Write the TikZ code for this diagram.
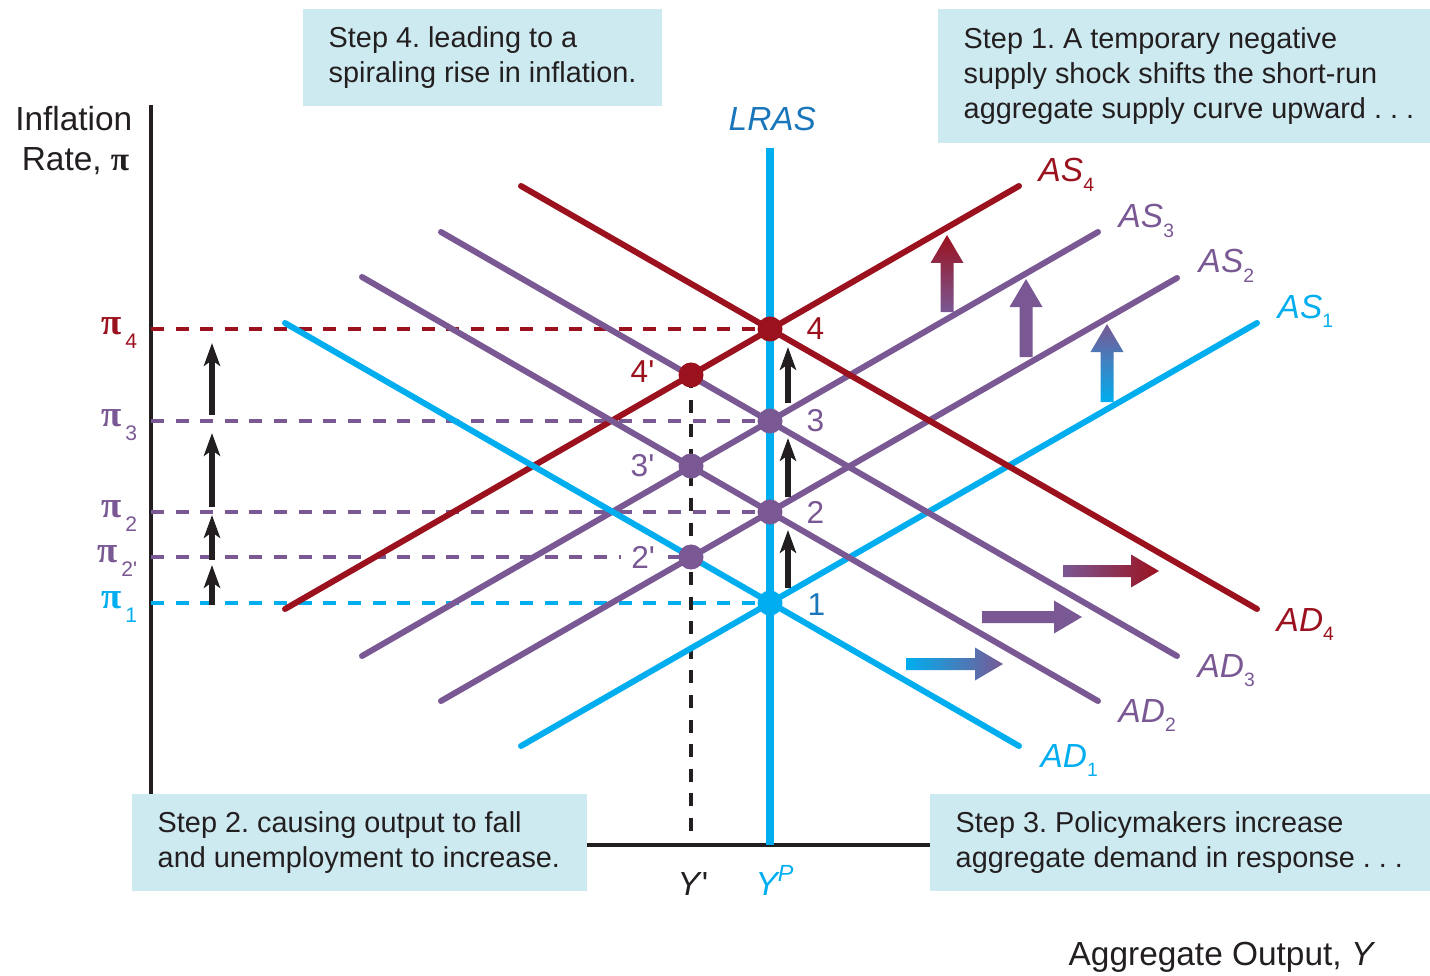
\documentclass[tikz,border=0pt]{standalone}
\usepackage{fontspec}
\setmainfont{Liberation Sans}
\newfontfamily\greekfont{Liberation Serif}
\usetikzlibrary{arrows.meta, positioning}
\frenchspacing

\definecolor{adcyan}{RGB}{0,174,239}
\definecolor{aspurple}{RGB}{122,88,148}
\definecolor{asred}{RGB}{155,17,30}
\definecolor{boxfill}{RGB}{205,234,241}
\definecolor{labblue}{RGB}{25,118,186}
\definecolor{inkblack}{RGB}{35,31,32}

\newcommand{\curvelab}[2]{\textit{#1}\raisebox{-2.8pt}{\fontsize{5.5}{5.5}\selectfont #2}}
\newcommand{\pilab}[1]{{\greekfont\bfseries\fontsize{10.5}{10}\selectfont π}\hspace{1pt}\raisebox{-4pt}{\fontsize{6}{6}\selectfont #1}}

\begin{document}
\begin{tikzpicture}[x=0.01cm, y=-0.01cm, >=Stealth,
  curve/.style={line width=1.7pt, line cap=round},
  level/.style={line width=0.9pt, dash pattern=on 3.7pt off 3.3pt},
  eqdot/.style={circle, inner sep=0pt, minimum size=0.25cm},
  shift arrow/.style={inkblack, line width=1.5pt,
    -{Stealth[length=6.5pt, width=4.6pt, inset=1.6pt]}},
  curvename/.style={anchor=base west, inner sep=0pt,
    font=\fontsize{9.5}{9.5}\selectfont},
  ptname/.style={anchor=base west, inner sep=0pt,
    font=\fontsize{9}{9}\selectfont},
  stepbox/.style={fill=boxfill, inner sep=0pt, anchor=north west},
  steptext/.style={font=\fontsize{8.2}{10}\selectfont, align=left,
    text=inkblack, inner sep=0pt}]

  \useasboundingbox (0,0) rectangle (1430,976);

  % Axes
  \coordinate (ytop) at (151,105);
  \coordinate (origin) at (151,845);
  \coordinate (xend) at (1360,845);
  \draw[inkblack, line width=0.9pt] (ytop) -- (origin) -- (xend);

  % Equilibria
  \coordinate (eq1) at (770,603);
  \coordinate (eq2) at (770,512);
  \coordinate (eq3) at (770,421);
  \coordinate (eq4) at (770,329);
  \coordinate (eq2p) at (691,557);
  \coordinate (eq3p) at (691,466);
  \coordinate (eq4p) at (691,375);

  % Inflation levels (dashed)
  \coordinate (pi1) at (151,603);
  \coordinate (pi2p) at (151,557);
  \coordinate (pi2) at (151,512);
  \coordinate (pi3) at (151,421);
  \coordinate (pi4) at (151,329);
  \draw[level, adcyan] (pi1) -- (eq1);
  \draw[level, aspurple] (pi2p) -- (eq2p);
  \draw[level, aspurple] (pi2) -- (eq2);
  \draw[level, aspurple] (pi3) -- (eq3);
  \draw[level, asred] (pi4) -- (eq4);

  % Output Y'
  \coordinate (yprime) at (691,845);
  \draw[level, inkblack] (eq4p) -- (yprime);

  % LRAS
  \coordinate (lrastop) at (770,148);
  \coordinate (lrasbot) at (770,845);
  \draw[adcyan, line width=2pt] (lrastop) -- (lrasbot);

  % AS curves
  \coordinate (as1a) at (521,746);  \coordinate (as1b) at (1257,323);
  \coordinate (as2a) at (441,701);  \coordinate (as2b) at (1177,278);
  \coordinate (as3a) at (362,656);  \coordinate (as3b) at (1098,232);
  \coordinate (as4a) at (285,609);  \coordinate (as4b) at (1019,186);
  \draw[curve, adcyan] (as1a) -- (as1b);
  \draw[curve, aspurple] (as2a) -- (as2b);
  \draw[curve, aspurple] (as3a) -- (as3b);
  \draw[curve, asred] (as4a) -- (as4b);

  % AD curves
  \coordinate (ad1a) at (285,323);  \coordinate (ad1b) at (1019,746);
  \coordinate (ad2a) at (362,277);  \coordinate (ad2b) at (1098,701);
  \coordinate (ad3a) at (441,232);  \coordinate (ad3b) at (1177,656);
  \coordinate (ad4a) at (521,186);  \coordinate (ad4b) at (1257,609);
  \draw[curve, adcyan] (ad1a) -- (ad1b);
  \draw[curve, aspurple] (ad2a) -- (ad2b);
  \draw[curve, aspurple] (ad3a) -- (ad3b);
  \draw[curve, asred] (ad4a) -- (ad4b);

  % Shift arrows of AS (up)
  \shade[bottom color=aspurple, top color=asred] (947,312) -- ++(-6.5,0)
    -- ++(0,-49) -- ++(-10,0) -- ++(16.5,-28) -- ++(16.5,28) -- ++(-10,0)
    -- ++(0,49) -- cycle;
  \fill[aspurple] (1026,357) -- ++(-6.5,0)
    -- ++(0,-50) -- ++(-10,0) -- ++(16.5,-28) -- ++(16.5,28) -- ++(-10,0)
    -- ++(0,50) -- cycle;
  \shade[bottom color=adcyan, top color=aspurple] (1107,402) -- ++(-6.5,0)
    -- ++(0,-50) -- ++(-10,0) -- ++(16.5,-28) -- ++(16.5,28) -- ++(-10,0)
    -- ++(0,50) -- cycle;

  % Shift arrows of AD (right)
  \shade[left color=aspurple, right color=asred] (1063,571) -- ++(0,-6)
    -- ++(68,0) -- ++(0,-10.5) -- ++(28,16.5) -- ++(-28,16.5) -- ++(0,-10.5)
    -- ++(-68,0) -- cycle;
  \fill[aspurple] (982,617) -- ++(0,-6)
    -- ++(72,0) -- ++(0,-10.5) -- ++(28,16.5) -- ++(-28,16.5) -- ++(0,-10.5)
    -- ++(-72,0) -- cycle;
  \shade[left color=adcyan, right color=aspurple] (906,664) -- ++(0,-6)
    -- ++(69,0) -- ++(0,-10.5) -- ++(28,16.5) -- ++(-28,16.5) -- ++(0,-10.5)
    -- ++(-69,0) -- cycle;

  % Rising inflation arrows
  \foreach \n/\from/\to in {a/605/565, b/560/515, c/507/433, d/415/343} {
    \coordinate (lt\n) at (212,\from);
    \coordinate (lh\n) at (212,\to);
    \draw[shift arrow] (lt\n) -- (lh\n);
  }
  \foreach \n/\from/\to in {a/588/530, b/497/438, c/403/347} {
    \coordinate (rt\n) at (788,\from);
    \coordinate (rh\n) at (788,\to);
    \draw[shift arrow] (rt\n) -- (rh\n);
  }

  % Dots
  \node[eqdot, fill=adcyan] (dot1) at (eq1) {};
  \node[eqdot, fill=aspurple] (dot2) at (eq2) {};
  \node[eqdot, fill=aspurple] (dot3) at (eq3) {};
  \node[eqdot, fill=asred] (dot4) at (eq4) {};
  \node[eqdot, fill=aspurple] (dot2p) at (eq2p) {};
  \node[eqdot, fill=aspurple] (dot3p) at (eq3p) {};
  \node[eqdot, fill=asred] (dot4p) at (eq4p) {};

  % Point labels
  \node[ptname, labblue] (lab1) at (807,615) {1};
  \node[ptname, aspurple] (lab2) at (806,523) {2};
  \node[ptname, aspurple] (lab3) at (806,431) {3};
  \node[ptname, asred] (lab4) at (806,340) {4};
  \node[ptname, aspurple, fill=white, inner xsep=3pt] (lab2p) at (620,568)
    {2\textquotesingle};
  \node[ptname, aspurple] (lab3p) at (630,476) {3\textquotesingle};
  \node[ptname, asred] (lab4p) at (630,383) {4\textquotesingle};

  % Curve labels
  \node[curvename, labblue] (lraslab) at (728,131) {\textit{LRAS}};
  \node[curvename, asred] (as4lab) at (1038,182) {\curvelab{AS}{4}};
  \node[curvename, aspurple] (as3lab) at (1118,228) {\curvelab{AS}{3}};
  \node[curvename, aspurple] (as2lab) at (1198,273) {\curvelab{AS}{2}};
  \node[curvename, adcyan] (as1lab) at (1277,318) {\curvelab{AS}{1}};
  \node[curvename, asred] (ad4lab) at (1276,631) {\curvelab{AD}{4}};
  \node[curvename, aspurple] (ad3lab) at (1197,677) {\curvelab{AD}{3}};
  \node[curvename, aspurple] (ad2lab) at (1118,722) {\curvelab{AD}{2}};
  \node[curvename, adcyan] (ad1lab) at (1040,767) {\curvelab{AD}{1}};

  % Inflation labels
  \node[anchor=base west, inner sep=0pt, asred] (pi4lab) at (101,334) {\pilab{4}};
  \node[anchor=base west, inner sep=0pt, aspurple] (pi3lab) at (101,426) {\pilab{3}};
  \node[anchor=base west, inner sep=0pt, aspurple] (pi2lab) at (101,517) {\pilab{2}};
  \node[anchor=base west, inner sep=0pt, aspurple] (pi2plab) at (97,562)
    {\pilab{2\textquotesingle}};
  \node[anchor=base west, inner sep=0pt, adcyan] (pi1lab) at (101,608) {\pilab{1}};

  % Output labels
  \node[curvename, inkblack] (yplab) at (677,895) {\textit{Y}\textquotesingle};
  \node[curvename, adcyan] (ypotlab) at (755,895) {\textit{Y\textsuperscript{P}}};

  % Axis titles
  \node[curvename, anchor=base east, inkblack] (ytitle1) at (133,131) {Inflation};
  \node[curvename, anchor=base east, inkblack] (ytitle2) at (130,171)
    {Rate, {\greekfont\bfseries π}};
  \node[curvename, inkblack] (xtitle) at (1068,965) {Aggregate Output, \textit{Y}};

  % Step boxes
  \node[stepbox, minimum width=3.59cm, minimum height=0.97cm] (step4) at (302,8) {};
  \node[steptext, right=0.26cm of step4.west] (step4txt)
    {Step 4. leading to a\\spiraling rise in inflation.};
  \node[stepbox, minimum width=4.93cm, minimum height=1.34cm] (step1) at (937,8) {};
  \node[steptext, right=0.26cm of step1.west] (step1txt)
    {Step 1. A temporary negative\\supply shock shifts the short-run\\aggregate supply curve upward . . .};
  \node[stepbox, minimum width=4.55cm, minimum height=0.97cm] (step2) at (131,793) {};
  \node[steptext, right=0.26cm of step2.west] (step2txt)
    {Step 2. causing output to fall\\and unemployment to increase.};
  \node[stepbox, minimum width=5.01cm, minimum height=0.97cm] (step3) at (929,793) {};
  \node[steptext, right=0.26cm of step3.west] (step3txt)
    {Step 3. Policymakers increase\\aggregate demand in response . . .};
\end{tikzpicture}
\end{document}
